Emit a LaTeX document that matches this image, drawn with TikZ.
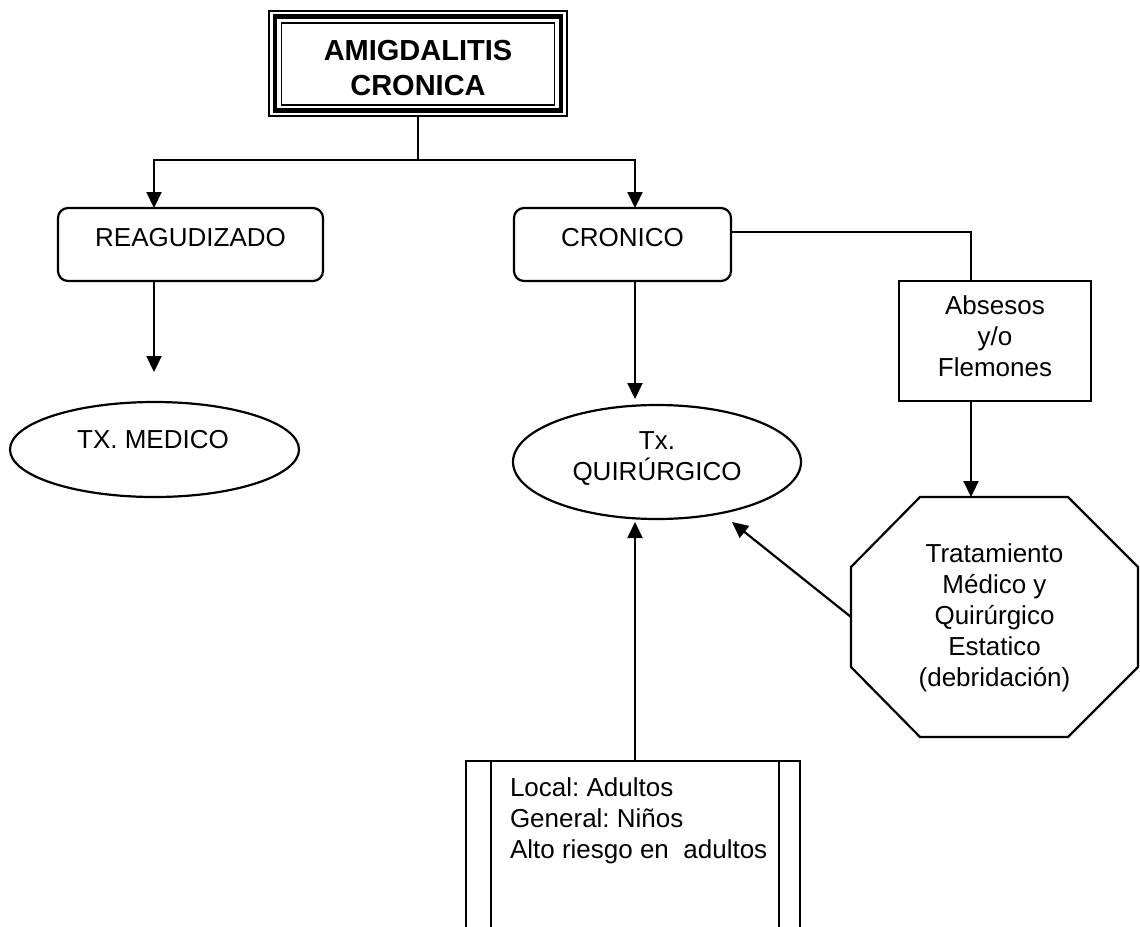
\documentclass[tikz,border=0pt]{standalone}
\usepackage{fontspec}
\setmainfont{Liberation Sans}
\frenchspacing
\usetikzlibrary{arrows.meta,calc,shapes.geometric}

\begin{document}
\begin{tikzpicture}[x=1pt,y=-1pt,
  line width=2.2pt,
  every node/.style={inner sep=0pt, outer sep=0pt},
  txt/.style={font=\fontsize{26}{31}\selectfont, align=center},
  ttl/.style={font=\fontsize{29}{35}\selectfont\bfseries, align=center},
  boxed/.style={draw, rectangle},
  rbox/.style={draw, rectangle, rounded corners=10pt},
  oval/.style={draw, ellipse},
  arr/.style={-{Triangle[length=16pt,width=15pt]}},
]
\clip (0,0) rectangle (1140,926);

% title box with triple border
\node[boxed, line width=1.8pt, minimum width=298pt, minimum height=105pt] (title) at (418,63.5) {};
\draw[line width=4.5pt] ($(title.north west)+(6,5.5)$) rectangle ($(title.south east)+(-6,-5.5)$);
\draw[line width=1.8pt] ($(title.north west)+(12.5,12)$) rectangle ($(title.south east)+(-12.5,-11)$);
\node[ttl] (titletext) at (418,68.5) {AMIGDALITIS\\CRONICA};

% second level
\node[rbox, minimum width=265pt, minimum height=73pt] (reag) at (190.5,244.5) {};
\node[txt, anchor=base] (reagtext) at (190.5,246.7) {REAGUDIZADO};
\node[rbox, minimum width=217pt, minimum height=73pt] (cron) at (622.5,244.5) {};
\node[txt, anchor=base] (crontext) at (622.5,246.7) {CRONICO};

% treatments
\node[oval, minimum width=289pt, minimum height=95pt] (med) at (154.5,449.5) {};
\node[txt, anchor=base] (medtext) at (153,448) {TX. MEDICO};
\node[oval, minimum width=288pt, minimum height=114pt] (quir) at (657,462) {};
\node[txt] (quirtext) at (657,459) {Tx.\\QUIRÚRGICO};

% abscess branch
\node[boxed, minimum width=192pt, minimum height=120pt] (abs) at (995,341) {};
\node[txt] (abstext) at (995,336.5) {Absesos\\y/o\\Flemones};

\node[minimum width=287pt, minimum height=240pt] (oct) at (994.5,617) {};
\draw ($(oct.north west)+(69,0)$) -- ($(oct.north east)+(-70,0)$)
  -- ($(oct.north east)+(0,70)$) -- ($(oct.south east)+(0,-70)$)
  -- ($(oct.south east)+(-70,0)$) -- ($(oct.south west)+(69,0)$)
  -- ($(oct.south west)+(0,-70)$) -- ($(oct.north west)+(0,70)$) -- cycle;
\node[txt] (octtext) at (994.5,618) {Tratamiento\\Médico y\\Quirúrgico\\Estatico\\(debridación)};

% anaesthesia box, open at the bottom
\node[boxed, minimum width=334pt, minimum height=200pt] (anest) at (633,861) {};
\draw ($(anest.north west)+(25,0)$) -- ($(anest.south west)+(25,0)$);
\draw ($(anest.north east)+(-21,0)$) -- ($(anest.south east)+(-21,0)$);
\node[txt, align=left, anchor=west] (anesttext) at (510,820.6) {Local: Adultos\\General: Niños\\Alto riesgo en\ \ adultos};

% connectors
\coordinate (split) at (418,160);
\coordinate (reagx) at (154,160);
\coordinate (cronx) at (635,160);
\draw (title.south) -- (split);
\draw[arr] (split) -| (reag.north -| reagx);
\draw[arr] (split) -| (cron.north -| cronx);

\coordinate (medtip) at (154,372);
\draw[arr] (reag.south -| medtip) -- (medtip);
\coordinate (quirtip) at (635,399);
\draw[arr] (cron.south -| quirtip) -- (quirtip);

\coordinate (absjoin) at (971,232);
\draw (cron.east |- absjoin) -- (absjoin) -- (abs.north -| absjoin);
\draw[arr] (abs.south -| absjoin) -- (oct.north -| absjoin);

\coordinate (quirdiag) at (732,522);
\draw[arr] (oct.west) -- (quirdiag);
\coordinate (quirbot) at (635,522);
\draw[arr] (anest.north -| quirbot) -- (quirbot);
\end{tikzpicture}
\end{document}
